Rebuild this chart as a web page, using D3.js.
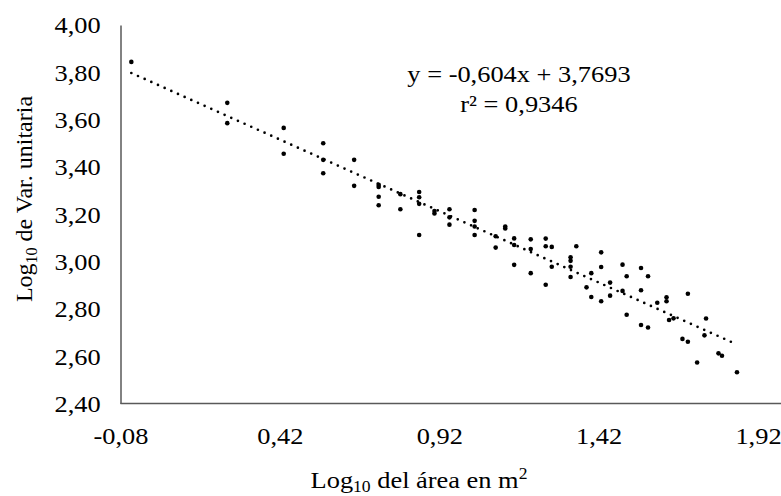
<!DOCTYPE html>
<html>
<head>
<meta charset="utf-8">
<script src="https://cdn.jsdelivr.net/npm/d3@7"></script>
<style>
  body { margin: 0; background: #fff; }
  text { font-family: "Liberation Serif", "Times New Roman", serif; fill: #000; }
</style>
</head>
<body>
<div id="chart"></div>
<script>
// values
var areaLog = [-0.046, 0.255, 0.255, 0.432, 0.432, 0.556, 0.556, 0.556, 0.653, 0.653,
  0.730, 0.730, 0.730, 0.730, 0.798, 0.798, 0.857, 0.857, 0.857, 0.857,
  0.905, 0.905, 0.952, 0.952, 0.952, 1.031, 1.031, 1.031, 1.031, 1.127,
  1.127, 1.097, 1.097, 1.155, 1.155, 1.155, 1.207, 1.207, 1.207, 1.254,
  1.254, 1.273, 1.254, 1.273, 1.350, 1.332, 1.332, 1.332, 1.332, 1.428,
  1.428, 1.397, 1.382, 1.397, 1.428, 1.456, 1.456, 1.495, 1.508, 1.495,
  1.508, 1.553, 1.575, 1.553, 1.553, 1.575, 1.604, 1.633, 1.633, 1.700,
  1.641, 1.655, 1.683, 1.700, 1.729, 1.757, 1.752, 1.796, 1.807, 1.854];
var varLog = [3.844, 3.671, 3.585, 3.565, 3.456, 3.500, 3.430, 3.373, 3.430, 3.320,
  3.324, 3.274, 3.238, 3.315, 3.285, 3.221, 3.294, 3.272, 3.244, 3.112,
  3.214, 3.203, 3.221, 3.187, 3.156, 3.218, 3.172, 3.148, 3.112, 3.148,
  3.140, 3.107, 3.059, 3.098, 3.070, 2.986, 3.094, 3.053, 2.951, 3.097,
  3.065, 3.062, 2.902, 2.978, 3.065, 3.018, 3.003, 2.978, 2.935, 3.039,
  2.977, 2.951, 2.891, 2.850, 2.832, 2.911, 2.856, 2.987, 2.938, 2.876,
  2.775, 2.973, 2.938, 2.879, 2.732, 2.721, 2.826, 2.849, 2.832, 2.864,
  2.753, 2.760, 2.673, 2.661, 2.573, 2.759, 2.688, 2.612, 2.602, 2.532];
var xTicks = [-0.08, 0.42, 0.92, 1.42, 1.92];
var yTicks = [2.40, 2.60, 2.80, 3.00, 3.20, 3.40, 3.60, 3.80, 4.00];
var slope = -0.604, intercept = 3.7693, r2 = 0.9346;

var data = areaLog.map(function(d, i) { return {x: d, y: varLog[i]}; });

var width = 781, height = 496;
var stretch = "scale(1.1,1)"; // the reference text is a bit wide
var fmt = function(v) { return d3.format(".2f")(v).replace(".", ",").replace("\u2212", "-"); };

var svg = d3.select("#chart").append("svg")
    .attr("width", width)
    .attr("height", height);

var x = d3.scaleLinear().domain([-0.08, 1.92]).range([120.5, 758]);
var y = d3.scaleLinear().domain([2.40, 4.00]).range([403.5, 25]);

// y axis
var yAxis = svg.append("g")
    .attr("transform", "translate(" + x.range()[0] + ",0)")
    .call(d3.axisLeft(y).tickValues(yTicks).tickFormat(fmt).tickSize(0).tickPadding(18));
yAxis.select(".domain").attr("stroke", "#595959").attr("stroke-width", 1.5);
yAxis.selectAll("text").style("font-size", "24px").attr("dy", "0.33em").attr("transform", stretch);

// x axis, the line runs on to the right edge
var xAxis = svg.append("g")
    .attr("transform", "translate(0," + y.range()[0] + ")")
    .call(d3.axisBottom(x).tickValues(xTicks).tickFormat(fmt).tickSize(0).tickPadding(23));
xAxis.select(".domain").remove();
xAxis.append("line")
    .attr("x1", x.range()[0]).attr("x2", width)
    .attr("stroke", "#595959").attr("stroke-width", 1.5);
xAxis.selectAll("text").style("font-size", "24px").attr("transform", stretch);

// trend line over the data extent
var ext = d3.extent(areaLog);
svg.append("path")
    .datum(ext.map(function(v) { return {x: v, y: slope * v + intercept}; }))
    .attr("fill", "none")
    .attr("stroke", "#000")
    .attr("stroke-width", 2.7)
    .attr("stroke-linecap", "round")
    .attr("stroke-dasharray", "0 7.3")
    .attr("d", d3.line().x(function(d) { return x(d.x); }).y(function(d) { return y(d.y); }));

// points
svg.append("g")
    .selectAll("circle")
    .data(data)
    .join("circle")
    .attr("cx", function(d) { return x(d.x); })
    .attr("cy", function(d) { return y(d.y); })
    .attr("r", 2.3)
    .attr("fill", "#000");

// equation
var eq = svg.append("text")
    .attr("transform", "translate(519,0) " + stretch)
    .attr("text-anchor", "middle")
    .style("font-size", "24px");
eq.append("tspan").attr("x", 0).attr("y", 82)
    .text("y = " + String(slope).replace(".", ",") + "x + " + String(intercept).replace(".", ","));
eq.append("tspan").attr("x", 0).attr("y", 112)
    .text("r² = " + String(r2).replace(".", ","));

// axis titles
var xt = svg.append("text")
    .attr("transform", "translate(419,488) " + stretch)
    .attr("text-anchor", "middle")
    .style("font-size", "24px");
xt.append("tspan").text("Log");
xt.append("tspan").attr("dy", 4).style("font-size", "16px").text("10");
xt.append("tspan").attr("dy", -4).text(" del área en m");
xt.append("tspan").attr("dy", -9).style("font-size", "16px").text("2");

var yt = svg.append("text")
    .attr("transform", "translate(32,199) rotate(-90)")
    .attr("text-anchor", "middle")
    .style("font-size", "24px");
yt.append("tspan").text("Log");
yt.append("tspan").attr("dy", 5).style("font-size", "16px").text("10");
yt.append("tspan").attr("dy", -5).text(" de Var. unitaria");
</script>
</body>
</html>
